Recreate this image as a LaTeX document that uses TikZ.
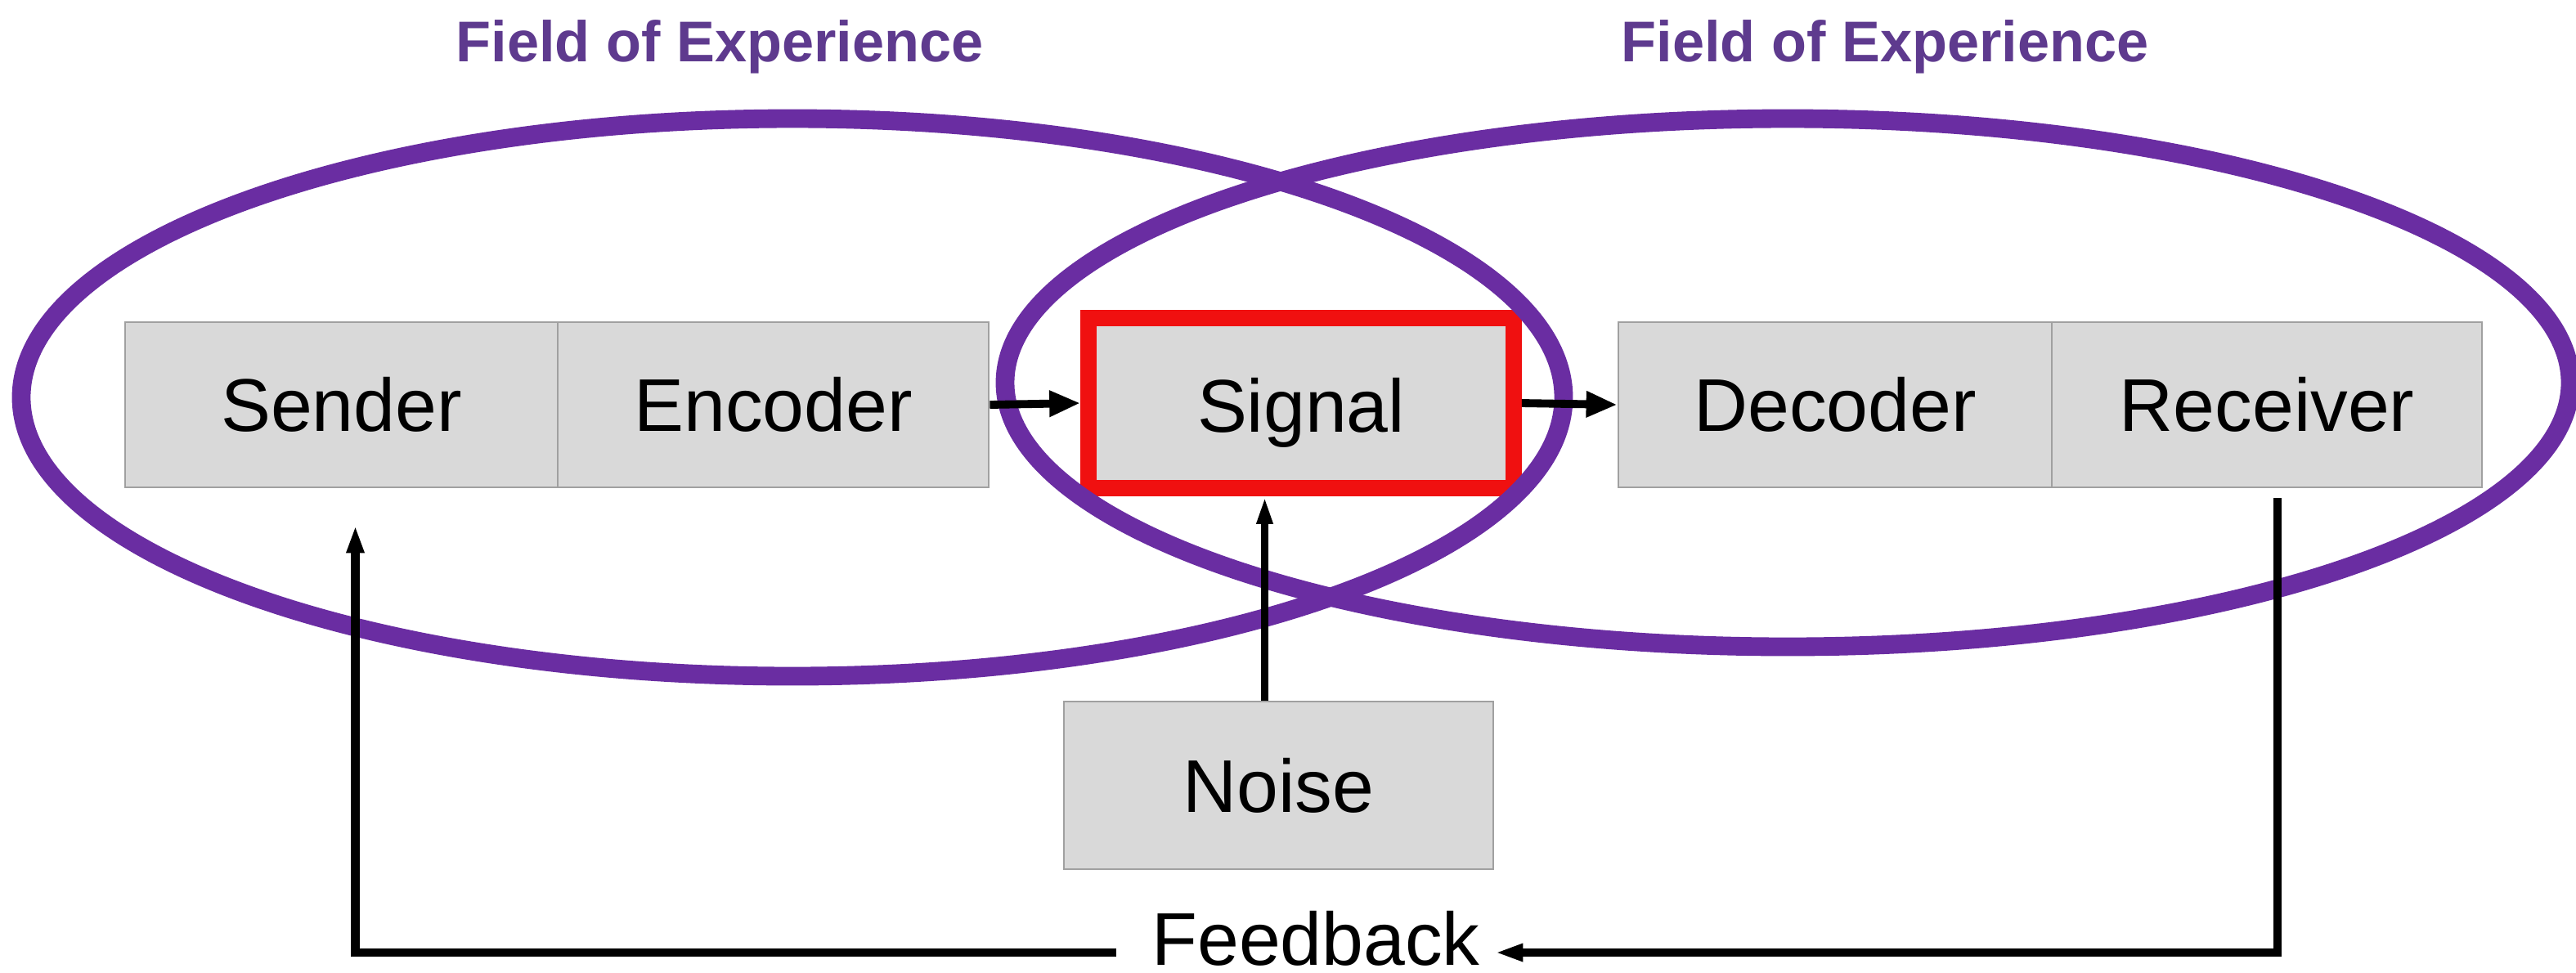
\documentclass[tikz,border=0pt]{standalone}
\usepackage{fontspec}
\setmainfont{Liberation Sans}
\usetikzlibrary{arrows.meta,calc}
\definecolor{fpurple}{HTML}{6A2DA2}
\definecolor{tpurple}{HTML}{5E3A8E}
\definecolor{boxgray}{HTML}{D9D9D9}
\definecolor{edgegray}{HTML}{A0A0A0}
\definecolor{sigred}{HTML}{F01010}
\begin{document}
\begin{tikzpicture}[x=1cm,y=1cm,
  cell/.style={draw=edgegray, line width=0.8pt, fill=boxgray, minimum height=2.02cm, inner sep=0pt, font=\fontsize{26}{30}\selectfont},
  field/.style={draw=fpurple, line width=6.5pt},
  title/.style={text=tpurple, font=\bfseries\fontsize{20}{24}\selectfont, anchor=base, inner sep=0pt},
  conn/.style={-{Triangle[length=0.38cm,width=0.3cm]}, line width=2.8pt},
  thinarrow/.style={-{Triangle[length=0.34cm,width=0.18cm]}, line width=2.6pt},
  fbline/.style={line width=2.9pt}
]
\useasboundingbox (0,0) rectangle (31.5,-11.89);

% boxes
\node[cell, minimum width=5.29cm] (sender) at (4.175,-4.95) {Sender};
\node[cell, minimum width=5.27cm] (encoder) at (9.455,-4.95) {Encoder};
\node[cell, draw=sigred, line width=5.6pt, minimum width=5.2cm, minimum height=2.08cm, text depth=0pt] (signal) at (15.91,-4.93) {\raisebox{-0.05cm}{Signal}};
\node[cell, minimum width=5.30cm] (decoder) at (22.44,-4.95) {Decoder};
\node[cell, minimum width=5.26cm] (receiver) at (27.72,-4.95) {Receiver};
\node[cell, minimum width=5.25cm, minimum height=2.05cm] (noise) at (15.635,-9.605) {Noise};

% fields of experience
\draw[field] (9.69,-4.86) ellipse [x radius=9.43, y radius=3.41];
\draw[field] (21.86,-4.68) ellipse [x radius=9.57, y radius=3.23];
\node[title] (t1) at (8.80,-0.75) {Field of Experience};
\node[title] (t2) at (23.05,-0.75) {Field of Experience};

% connectors
\draw[conn] (encoder.east) -- (signal.west);
\draw[conn] (signal.east) -- (decoder.west);
\draw[thinarrow] ([xshift=-0.17cm]noise.north) -- ([xshift=-0.17cm]noise.north |- signal.south);

% feedback
\coordinate (fby) at (0,-11.65);
\node[font=\fontsize{26}{30}\selectfont, anchor=base, inner sep=0pt] (fb) at (16.09,-11.80) {Feedback};
\draw[fbline, -{Triangle[length=0.34cm,width=0.2cm]}] ([xshift=0.13cm,yshift=-0.12cm]receiver.south) |- ([xshift=0.18cm]fb.east |- fby);
\draw[fbline, -{Triangle[length=0.34cm,width=0.2cm]}, shorten >=0.45cm] ([xshift=-0.43cm]fb.west |- fby) -| ([xshift=0.17cm]sender.south);
\end{tikzpicture}
\end{document}
